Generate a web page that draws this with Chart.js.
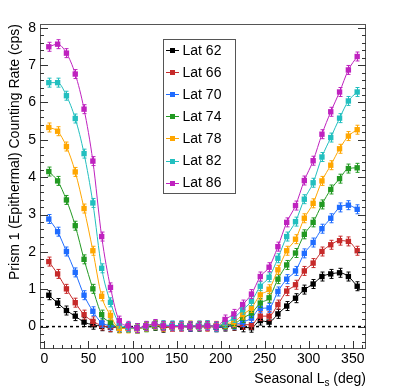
<!DOCTYPE html>
<html>
<head>
<meta charset="utf-8">
<script src="https://cdn.jsdelivr.net/npm/chart.js@4/dist/chart.umd.min.js"></script>
<style>
html,body{margin:0;padding:0;background:#fff;}
#wrap{width:399px;height:388px;position:relative;}
</style>
</head>
<body>
<div id="wrap"><canvas id="c" width="399" height="388"></canvas></div>
<script>
// ---- data ----
const ls = [5,15,25,35,45,55,65,75,85,95,105,115,125,135,145,155,165,175,185,195,205,215,225,235,245,255,265,275,285,295,305,315,325,335,345,355];
const lat62 = [0.84,0.63,0.43,0.28,0.12,0.05,0.01,-0.02,-0.03,
  -0.02,-0.04,0.0,0.02,-0.03,0.0,0.01,-0.01,0.0,0.01,-0.02,
  0.0,0.02,-0.02,-0.03,0.16,0.12,0.34,0.55,0.76,0.99,1.14,1.34,1.41,1.44,1.34,1.08];
const lat66 = [1.74,1.41,1.01,0.64,0.32,0.14,0.03,-0.01,-0.03,
  -0.03,-0.05,-0.01,0.04,0.0,-0.01,0.0,0.01,0.02,0.0,0.0,
  0.02,0.03,0.05,0.05,0.28,0.28,0.59,0.95,1.12,1.49,1.70,2.01,2.19,2.30,2.28,2.03];
const lat70 = [2.88,2.54,2.01,1.45,0.84,0.41,0.10,0.03,-0.02,
  -0.01,-0.04,0.01,0.05,0.02,0.02,0.03,0.0,0.01,0.02,-0.01,
  0.03,0.05,0.12,0.23,0.49,0.50,0.94,1.27,1.49,1.96,2.25,2.62,2.90,3.19,3.25,3.14];
const lat74 = [4.15,3.90,3.39,2.70,1.80,1.01,0.32,0.11,-0.04,
  -0.03,-0.05,-0.02,0.03,0.01,0.0,0.02,0.01,0.0,0.03,0.01,
  0.05,0.07,0.23,0.36,0.63,0.77,1.27,1.65,1.97,2.47,2.79,3.27,3.67,3.96,4.23,4.25];
const lat78 = [5.33,5.23,4.82,4.14,3.16,2.03,0.81,0.30,-0.05,
  -0.05,-0.06,0.0,0.05,0.0,-0.01,0.0,0.03,0.02,0.01,0.02,
  0.08,0.12,0.32,0.50,0.85,1.00,1.52,2.03,2.34,2.90,3.30,3.90,4.32,4.76,5.10,5.27];
const lat82 = [6.53,6.53,6.18,5.57,4.63,3.31,1.56,0.65,0.08,
  -0.02,-0.05,0.01,0.06,0.04,0.03,0.02,0.02,0.03,0.04,0.0,
  0.10,0.23,0.45,0.68,1.08,1.32,1.83,2.41,2.81,3.41,3.85,4.54,5.06,5.58,6.04,6.28];
const lat86 = [7.49,7.56,7.32,6.76,5.82,4.43,2.41,1.05,0.16,
  0.02,-0.04,0.02,0.07,0.02,0.0,0.0,0.01,0.01,0.02,0.01,
  0.19,0.34,0.59,0.87,1.34,1.59,2.14,2.79,3.24,3.91,4.44,5.15,5.75,6.28,6.87,7.23];
const seriesNames = ['Lat 62','Lat 66','Lat 70','Lat 74','Lat 78','Lat 82','Lat 86'];
const seriesValues = [lat62,lat66,lat70,lat74,lat78,lat82,lat86];
const seriesErrors = [0.12,0.12,0.12,0.12,0.12,0.12,0.12];
const xTickValues = [0,50,100,150,200,250,300,350];
const yTickValues = [0,1,2,3,4,5,6,7,8];
const xTitle = ['Seasonal L','s',' (deg)'];
const yTitle = 'Prism 1 (Epithermal) Counting Rate (cps)';

// ---- styles ----
const colors = ['#000000','#c62a2a','#1f6cff','#229922','#ffa600','#22bfbf','#bf22bf'];
const FONT = '"Liberation Sans", Arial, Helvetica, sans-serif';

const datasets = seriesValues.map((vals,i)=>({
  label: seriesNames[i],
  data: vals.map((v,j)=>({x: ls[j], y: v})),
  borderColor: colors[i],
  backgroundColor: colors[i],
  borderWidth: 1,
  pointStyle: 'rect',
  pointRadius: 3.8,
  pointBorderWidth: 0,
  cubicInterpolationMode: 'monotone',
  order: seriesValues.length - 1 - i,
  errVal: seriesErrors[i]
}));

const rootPlugin = {
  id: 'rootStyle',
  beforeDatasetDraw(chart, args) {
    const ds = chart.data.datasets[args.index];
    const meta = args.meta;
    const ys = chart.scales.y;
    const ctx = chart.ctx;
    ctx.save();
    ctx.strokeStyle = ds.borderColor;
    ctx.lineWidth = 1;
    ds.data.forEach((p,j)=>{
      const el = meta.data[j];
      const x = Math.round(el.x) + 0.5;
      const y1 = ys.getPixelForValue(p.y + ds.errVal);
      const y2 = ys.getPixelForValue(p.y - ds.errVal);
      ctx.beginPath();
      ctx.moveTo(x, y1); ctx.lineTo(x, y2);
      ctx.moveTo(x-2, y1); ctx.lineTo(x+2, y1);
      ctx.moveTo(x-2, y2); ctx.lineTo(x+2, y2);
      ctx.stroke();
    });
    ctx.restore();
  },
  beforeDatasetsDraw(chart) {
    const {ctx, chartArea:a, scales:{x:xs, y:ys}} = chart;
    const y0 = ys.getPixelForValue(0);
    ctx.save();
    ctx.strokeStyle = '#000';
    ctx.lineWidth = 1.5;
    ctx.setLineDash([3,3]);
    ctx.beginPath();
    ctx.moveTo(a.left, y0); ctx.lineTo(a.right, y0);
    ctx.stroke();
    ctx.restore();
  },
  afterDraw(chart) {
    const {ctx, chartArea:a, scales:{x:xs, y:ys}} = chart;
    ctx.save();
    ctx.strokeStyle = '#555';
    ctx.lineWidth = 1;
    ctx.strokeRect(Math.round(a.left)+0.5, Math.round(a.top)+0.5, Math.round(a.right-a.left)-1, Math.round(a.bottom-a.top)-1);
    ctx.strokeStyle = '#333';
    ctx.beginPath();
    for (let v = 0; v <= 360; v += 10) {
      const px = Math.round(xs.getPixelForValue(v)) + 0.5;
      if (px < a.left || px > a.right) continue;
      const len = (v % 50 === 0) ? 8 : 4;
      ctx.moveTo(px, a.bottom); ctx.lineTo(px, a.bottom - len);
    }
    for (let k = -3; k <= 40; k++) {
      const v = k * 0.2;
      const py = Math.round(ys.getPixelForValue(v)) + 0.5;
      if (py < a.top || py > a.bottom) continue;
      const len = (k % 5 === 0) ? 8 : 4;
      ctx.moveTo(a.left, py); ctx.lineTo(a.left + len, py);
      ctx.moveTo(a.right, py); ctx.lineTo(a.right - len, py);
    }
    ctx.stroke();

    ctx.fillStyle = '#000';
    ctx.font = '14px ' + FONT;
    ctx.textBaseline = 'alphabetic';
    const w1 = ctx.measureText(xTitle[0]).width;
    const w3 = ctx.measureText(xTitle[2]).width;
    ctx.font = '10px ' + FONT;
    const w2 = ctx.measureText(xTitle[1]).width;
    const xEnd = a.right;
    const xStart = xEnd - (w1 + w2 + w3);
    const base = 383;
    ctx.font = '14px ' + FONT;
    ctx.textAlign = 'left';
    ctx.fillText(xTitle[0], xStart, base);
    ctx.font = '10px ' + FONT;
    ctx.fillText(xTitle[1], xStart + w1, base + 3);
    ctx.font = '14px ' + FONT;
    ctx.fillText(xTitle[2], xStart + w1 + w2, base);

    ctx.save();
    ctx.translate(19, a.top);
    ctx.rotate(-Math.PI/2);
    ctx.textAlign = 'right';
    ctx.textBaseline = 'alphabetic';
    ctx.fillText(yTitle, 0, 0);
    ctx.restore();

    const lx = 163.5, ly = 39.5, lw = 72, lh = 154;
    ctx.fillStyle = '#fff';
    ctx.fillRect(lx, ly, lw, lh);
    ctx.strokeStyle = '#555';
    ctx.lineWidth = 1;
    ctx.strokeRect(lx, ly, lw, lh);
    seriesNames.forEach((name,i)=>{
      const cy = 50 + i*22.1;
      ctx.strokeStyle = colors[i];
      ctx.beginPath();
      ctx.moveTo(166, Math.round(cy)+0.5); ctx.lineTo(179, Math.round(cy)+0.5);
      ctx.stroke();
      ctx.fillStyle = colors[i];
      ctx.fillRect(170, Math.round(cy)-2, 5, 5);
      ctx.fillStyle = '#000';
      ctx.font = '14px ' + FONT;
      ctx.textAlign = 'left';
      ctx.textBaseline = 'middle';
      ctx.fillText(name, 182.5, cy + 1);
    });
    ctx.restore();
  }
};

new Chart(document.getElementById('c'), {
  type: 'line',
  data: { datasets },
  options: {
    responsive: false,
    animation: false,
    devicePixelRatio: 1,
    layout: { padding: { left: 0, right: 33, top: 24, bottom: 0 } },
    plugins: { legend: { display: false }, tooltip: { enabled: false } },
    scales: {
      x: {
        type: 'linear',
        min: -5, max: 365,
        afterFit(s) { s.height = 39; },
        afterBuildTicks(s) { s.ticks = xTickValues.map(v=>({value:v})); },
        grid: { display: false, drawTicks: false },
        border: { display: false },
        ticks: { color: '#000', font: { family: FONT, size: 14 }, padding: 2, maxRotation: 0, autoSkip: false }
      },
      y: {
        type: 'linear',
        min: -0.6, max: 8.1,
        afterFit(s) { s.width = 40; },
        afterBuildTicks(s) { s.ticks = yTickValues.map(v=>({value:v})); },
        grid: { display: false, drawTicks: false },
        border: { display: false },
        ticks: { color: '#000', font: { family: FONT, size: 14 }, padding: 4 }
      }
    }
  },
  plugins: [rootPlugin]
});
</script>
</body>
</html>
